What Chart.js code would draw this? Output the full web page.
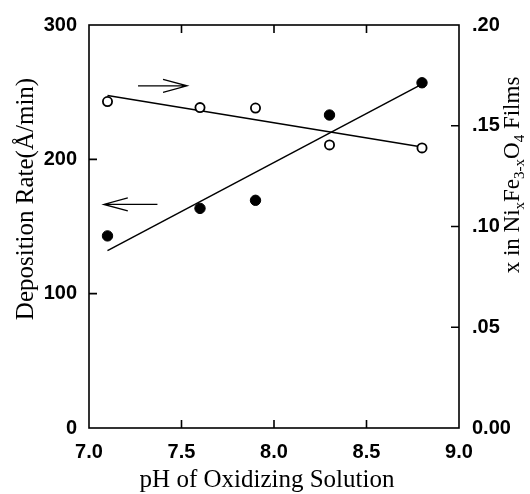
<!DOCTYPE html>
<html>
<head>
<meta charset="utf-8">
<script src="https://cdn.jsdelivr.net/npm/chart.js@4/dist/chart.umd.min.js"></script>
<style>
  html, body { margin: 0; padding: 0; background: #fff; }
  #wrap { width: 530px; height: 494px; }
</style>
</head>
<body>
<div id="wrap"><canvas id="chart" width="530" height="494"></canvas></div>
<script>
// pH values
const phValues = [7.1, 7.6, 7.9, 8.3, 8.8];
// deposition rate (Å/min), filled dots, left axis
const depositionRate = [143, 163.5, 169.5, 233, 257];
// x in NixFe3-xO4, open dots, right axis
const nickelFraction = [0.162, 0.159, 0.1588, 0.1405, 0.139];

// fitted straight lines (end points)
const rateFitX = [7.1, 8.8];
const rateFitY = [132, 256];
const fracFitX = [7.1, 8.8];
const fracFitY = [0.165, 0.1395];

// ticks
const xTicks = [7.0, 7.5, 8.0, 8.5, 9.0];
const rateTicks = [0, 100, 200, 300];
const fracTicks = [0, 0.05, 0.10, 0.15, 0.20];

// arrows pointing at the axis each series belongs to (data units)
const arrowToRight = { x: [7.265, 7.53], y: 254.7 };   // on rate scale
const arrowToLeft = { x: [7.37, 7.08], y: 166.4 };

const tickFont = { family: 'Liberation Sans, Arial, sans-serif', size: 20, weight: 'bold' };
const serif = 'Liberation Serif, Times New Roman, serif';

function toPts(xs, ys) {
  return xs.map((x, i) => ({ x: x, y: ys[i] }));
}

// box, inward ticks, arrows and axis titles
const decorPlugin = {
  id: 'decor',
  afterDraw(chart) {
    const ctx = chart.ctx;
    const a = chart.chartArea;
    const sx = chart.scales.x, sy = chart.scales.y, sy2 = chart.scales.y2;
    ctx.save();
    ctx.strokeStyle = '#000';
    ctx.lineWidth = 1.6;
    ctx.strokeRect(a.left, a.top, a.right - a.left, a.bottom - a.top);

    const tl = 8;
    ctx.beginPath();
    xTicks.slice(1, -1).forEach(v => {
      const px = sx.getPixelForValue(v);
      ctx.moveTo(px, a.bottom); ctx.lineTo(px, a.bottom - tl);
      ctx.moveTo(px, a.top); ctx.lineTo(px, a.top + tl);
    });
    rateTicks.slice(1, -1).forEach(v => {
      const py = sy.getPixelForValue(v);
      ctx.moveTo(a.left, py); ctx.lineTo(a.left + tl, py);
    });
    fracTicks.slice(1, -1).forEach(v => {
      const py = sy2.getPixelForValue(v);
      ctx.moveTo(a.right, py); ctx.lineTo(a.right - tl, py);
    });
    ctx.stroke();

    // arrows
    ctx.lineWidth = 1.3;
    [arrowToRight, arrowToLeft].forEach(ar => {
      const x0 = sx.getPixelForValue(ar.x[0]);
      const x1 = sx.getPixelForValue(ar.x[1]);
      const py = sy.getPixelForValue(ar.y);
      const dir = x1 > x0 ? 1 : -1;
      ctx.beginPath();
      ctx.moveTo(x0, py); ctx.lineTo(x1, py);
      ctx.moveTo(x1 - dir * 24, py - 6.5); ctx.lineTo(x1, py); ctx.lineTo(x1 - dir * 24, py + 6.5);
      ctx.stroke();
    });

    ctx.fillStyle = '#000';
    // x title
    ctx.font = '25px ' + serif;
    ctx.textAlign = 'center';
    ctx.textBaseline = 'alphabetic';
    ctx.fillText('pH of Oxidizing Solution', 267, 487);

    // left title
    ctx.save();
    ctx.translate(33, 199);
    ctx.rotate(-Math.PI / 2);
    ctx.font = '25px ' + serif;
    ctx.textAlign = 'center';
    ctx.fillText('Deposition Rate(Å/min)', 0, 0);
    ctx.restore();

    // right title with subscripts
    ctx.save();
    ctx.translate(519, 175);
    ctx.rotate(-Math.PI / 2);
    const big = '23px ' + serif, small = '15px ' + serif;
    const parts = [
      ['x in Ni', big, 0], ['x', small, 5], ['Fe', big, 0], ['3-x', small, 5],
      ['O', big, 0], ['4', small, 5], [' Films', big, 0]
    ];
    let total = 0;
    parts.forEach(p => { ctx.font = p[1]; total += ctx.measureText(p[0]).width; });
    let cx = -total / 2;
    ctx.textAlign = 'left';
    parts.forEach(p => {
      ctx.font = p[1];
      ctx.fillText(p[0], cx, p[2]);
      cx += ctx.measureText(p[0]).width;
    });
    ctx.restore();

    ctx.restore();
  }
};

new Chart(document.getElementById('chart'), {
  type: 'scatter',
  data: {
    datasets: [
      {
        label: 'Deposition rate',
        data: toPts(phValues, depositionRate),
        yAxisID: 'y',
        pointRadius: 5.2,
        pointBackgroundColor: '#000',
        pointBorderColor: '#000',
        pointBorderWidth: 1,
        showLine: false,
        order: 0
      },
      {
        label: 'x in film',
        data: toPts(phValues, nickelFraction),
        yAxisID: 'y2',
        pointRadius: 4.6,
        pointBackgroundColor: '#fff',
        pointBorderColor: '#000',
        pointBorderWidth: 1.8,
        showLine: false,
        order: 0
      },
      {
        label: 'rate fit',
        data: toPts(rateFitX, rateFitY),
        yAxisID: 'y',
        showLine: true,
        borderColor: '#000',
        borderWidth: 1.5,
        pointRadius: 0,
        order: 1
      },
      {
        label: 'x fit',
        data: toPts(fracFitX, fracFitY),
        yAxisID: 'y2',
        showLine: true,
        borderColor: '#000',
        borderWidth: 1.5,
        pointRadius: 0,
        order: 1
      }
    ]
  },
  options: {
    responsive: false,
    animation: false,
    layout: { padding: { top: 17, left: 0, right: 0, bottom: 0 } },
    plugins: {
      legend: { display: false },
      tooltip: { enabled: false }
    },
    scales: {
      x: {
        type: 'linear',
        min: 7, max: 9,
        afterBuildTicks: s => { s.ticks = xTicks.map(v => ({ value: v })); },
        afterFit: s => { s.height = 66; },
        grid: { display: false, drawTicks: false },
        border: { display: false },
        ticks: {
          color: '#000', font: tickFont, padding: 12,
          callback: v => Number(v).toFixed(1)
        }
      },
      y: {
        position: 'left',
        min: 0, max: 300,
        afterBuildTicks: s => { s.ticks = rateTicks.map(v => ({ value: v })); },
        afterFit: s => { s.width = 89; },
        grid: { display: false, drawTicks: false },
        border: { display: false },
        ticks: { color: '#000', font: tickFont, padding: 12 }
      },
      y2: {
        position: 'right',
        min: 0, max: 0.2,
        afterBuildTicks: s => { s.ticks = fracTicks.map(v => ({ value: v })); },
        afterFit: s => { s.width = 71; },
        grid: { display: false, drawTicks: false },
        border: { display: false },
        ticks: {
          color: '#000', font: tickFont, padding: 13,
          callback: v => v === 0 ? '0.00' : Number(v).toFixed(2).replace(/^0/, '')
        }
      }
    }
  },
  plugins: [decorPlugin]
});
</script>
</body>
</html>
